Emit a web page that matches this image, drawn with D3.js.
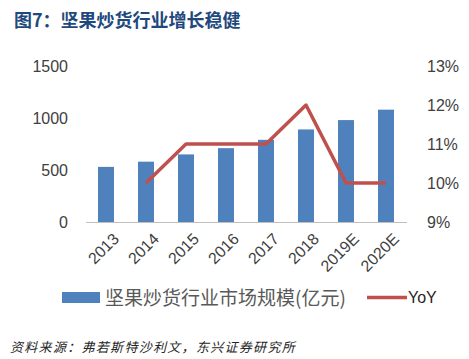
<!DOCTYPE html>
<html>
<head>
<meta charset="utf-8">
<script src="https://cdn.jsdelivr.net/npm/d3@7"></script>
<style>
  body { margin: 0; background: #fff; }
  svg { display: block; }
</style>
</head>
<body>
<svg id="chart" width="469" height="359"></svg>
<script>
// data
const years = ['2013', '2014', '2015', '2016', '2017', '2018', '2019E', '2020E'];
const marketSize = [530, 580, 650, 710, 790, 890, 980, 1080];
const yoy = [null, 0.10, 0.11, 0.11, 0.11, 0.12, 0.10, 0.10];
const leftTicks = [0, 500, 1000, 1500];
const rightTicks = [0.09, 0.10, 0.11, 0.12, 0.13];

const svg = d3.select('#chart');
const font = '"Liberation Sans", Arial, sans-serif';
const cjk = '"Noto Sans CJK SC", sans-serif';

const x = d3.scaleBand().domain(years).range([86, 406]).paddingInner(0.6).paddingOuter(0.3);
const yL = d3.scaleLinear().domain([0, 1500]).range([222, 66]);
const yR = d3.scaleLinear().domain([0.09, 0.13]).range([222, 66]);

// title
svg.append('text')
    .attr('x', 14).attr('y', 27)
    .attr('font-family', cjk).attr('font-weight', 'bold')
    .attr('font-size', 18).attr('fill', '#1F497D')
    .text('图7：坚果炒货行业增长稳健');

// bars
svg.append('g').selectAll('rect')
    .data(marketSize)
    .join('rect')
    .attr('x', (d, i) => x(years[i]))
    .attr('width', x.bandwidth())
    .attr('y', d => yL(d))
    .attr('height', d => yL(0) - yL(d))
    .attr('fill', '#4F81BD');

// axis line
svg.append('line')
    .attr('x1', 86).attr('x2', 407)
    .attr('y1', 222.5).attr('y2', 222.5)
    .attr('stroke', '#BFBFBF').attr('stroke-width', 1);

// left axis
const left = svg.append('g')
    .attr('transform', 'translate(68,0)')
    .call(d3.axisLeft(yL).tickValues(leftTicks).tickSize(0).tickPadding(0).tickFormat(d3.format('d')));
left.select('.domain').remove();
left.selectAll('text').attr('font-family', font).attr('font-size', 16).attr('fill', '#404040');

// right axis
const right = svg.append('g')
    .attr('transform', 'translate(427,0)')
    .call(d3.axisRight(yR).tickValues(rightTicks).tickSize(0).tickPadding(0).tickFormat(d3.format('.0%')));
right.select('.domain').remove();
right.selectAll('text').attr('font-family', font).attr('font-size', 16).attr('fill', '#404040');

// x labels
svg.append('g').selectAll('text')
    .data(years)
    .join('text')
    .attr('transform', d => `translate(${x(d) + x.bandwidth() / 2 + 6},${232}) rotate(-45)`)
    .attr('text-anchor', 'end')
    .attr('dy', '0.7em')
    .attr('font-family', font).attr('font-size', 16).attr('fill', '#404040')
    .text(d => d);

// yoy line
const line = d3.line()
    .defined(d => d != null)
    .x((d, i) => x(years[i]) + x.bandwidth() / 2)
    .y(d => yR(d));
svg.append('path')
    .datum(yoy)
    .attr('d', line)
    .attr('fill', 'none')
    .attr('stroke', '#C0504D')
    .attr('stroke-width', 3.5)
    .attr('stroke-linejoin', 'round');

// legend
svg.append('rect')
    .attr('x', 62).attr('y', 292).attr('width', 38).attr('height', 11)
    .attr('fill', '#4F81BD');
svg.append('text')
    .attr('x', 105).attr('y', 305)
    .attr('font-family', cjk).attr('font-size', 19).attr('fill', '#595959')
    .text('坚果炒货行业市场规模(亿元)');
svg.append('line')
    .attr('x1', 367).attr('x2', 407).attr('y1', 297.5).attr('y2', 297.5)
    .attr('stroke', '#C0504D').attr('stroke-width', 3.5);
svg.append('text')
    .attr('x', 408).attr('y', 303)
    .attr('font-family', font).attr('font-size', 16).attr('fill', '#262626')
    .text('YoY');

// source
svg.append('text')
    .attr('x', 10).attr('y', 352)
    .attr('font-family', cjk).attr('font-style', 'italic')
    .attr('font-size', 13).attr('fill', '#262626')
    .attr('letter-spacing', 1.3)
    .text('资料来源：弗若斯特沙利文，东兴证券研究所');
</script>
</body>
</html>
